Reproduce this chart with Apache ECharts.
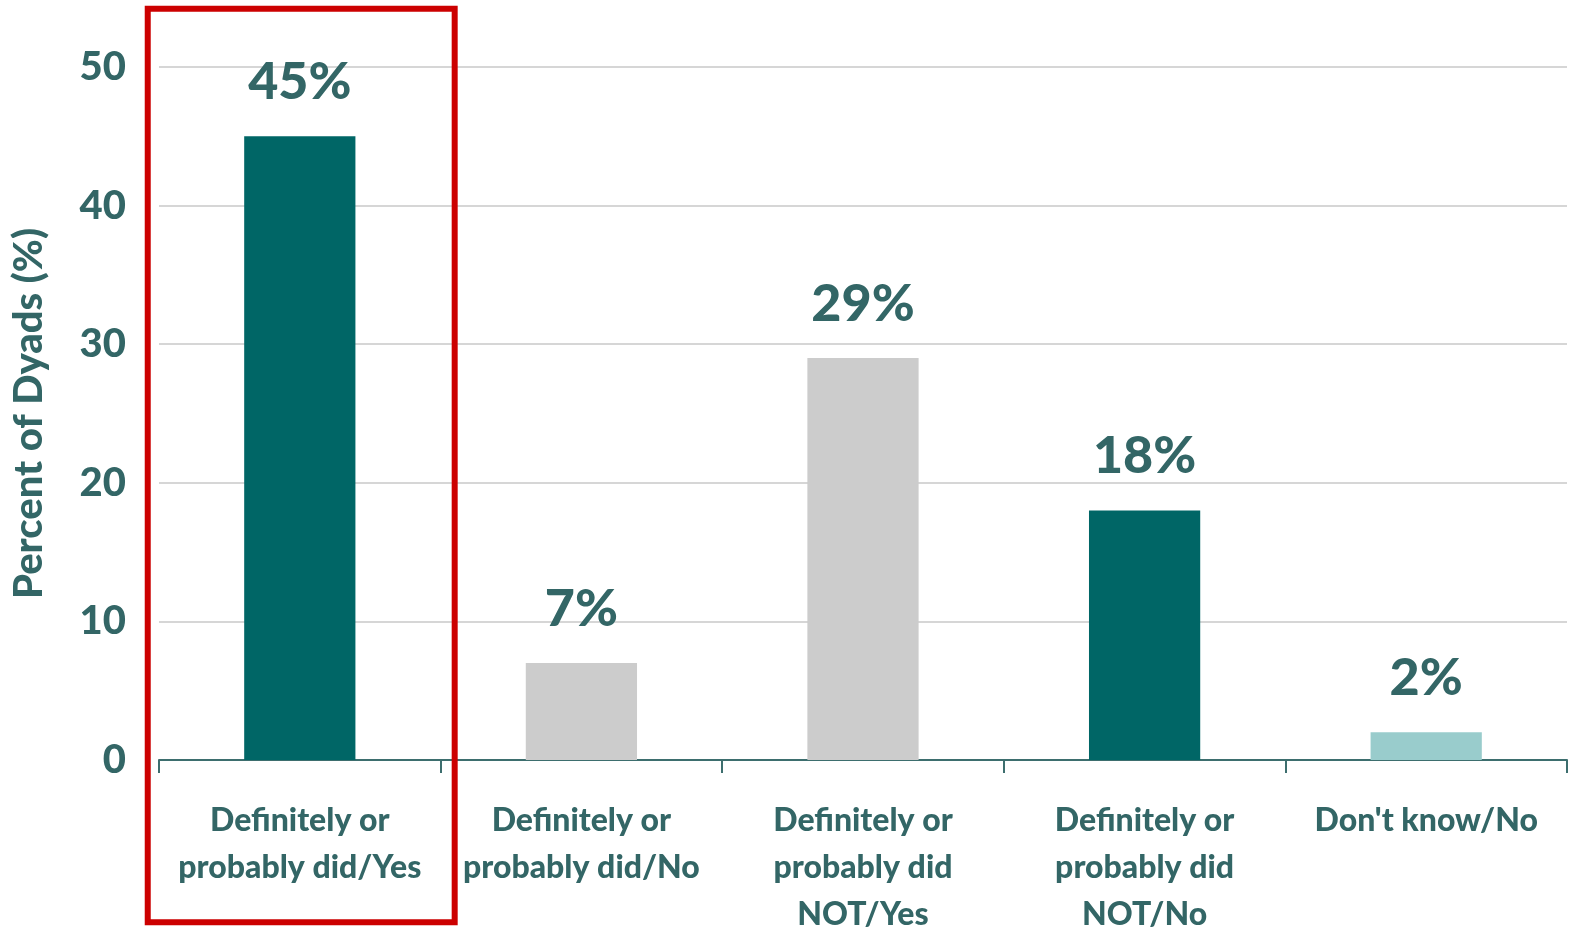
<!DOCTYPE html>
<html>
<head>
<meta charset="utf-8">
<script src="https://cdn.jsdelivr.net/npm/echarts@6/dist/echarts.min.js"></script>
<style>
html,body{margin:0;padding:0;background:#fff;}
#chart{width:1573px;height:931px;}
</style>
</head>
<body>
<div id="chart"></div>
<script>
const categories = [
  "Definitely or\nprobably did/Yes",
  "Definitely or\nprobably did/No",
  "Definitely or\nprobably did\nNOT/Yes",
  "Definitely or\nprobably did\nNOT/No",
  "Don't know/No"
];
const values = [45, 7, 29, 18, 2];
const barColors = ["#006666", "#cccccc", "#cccccc", "#006666", "#99cccc"];
const yTicks = { min: 0, max: 50, interval: 10 };
const yAxisName = "Percent of Dyads (%)";
const highlightIndex = 0;

const FONT = "Lato, 'Open Sans', sans-serif";
const TEXT = "#336666";

const chart = echarts.init(document.getElementById('chart'), null, { renderer: 'canvas' });
const option = {
  animation: false,
  backgroundColor: '#ffffff',
  grid: { left: 159, right: 6, top: 67, bottom: 171, containLabel: false, outerBoundsMode: 'none' },
  xAxis: {
    type: 'category',
    data: categories,
    axisLine: { lineStyle: { color: '#3d6e6e', width: 2 } },
    axisTick: { show: true, length: 13, lineStyle: { color: '#3d6e6e', width: 2 } },
    axisLabel: {
      interval: 0,
      color: TEXT,
      fontFamily: FONT,
      fontWeight: 900,
      fontSize: 32,
      lineHeight: 47,
      margin: 37
    }
  },
  yAxis: {
    type: 'value',
    min: yTicks.min, max: yTicks.max, interval: yTicks.interval,
    name: yAxisName,
    nameLocation: 'middle',
    nameGap: 110,
    nameTextStyle: { color: TEXT, fontFamily: FONT, fontWeight: 900, fontSize: 40 },
    axisLine: { show: false },
    axisTick: { show: false },
    axisLabel: { color: TEXT, fontFamily: FONT, fontWeight: 900, fontSize: 40, margin: 33 },
    splitLine: { lineStyle: { color: '#c8c8c8', width: 1.5 } }
  },
  series: [{
    type: 'bar',
    barWidth: '39.5%',
    data: values.map((v, i) => ({ value: v, itemStyle: { color: barColors[i] } })),
    label: {
      show: true,
      position: 'top',
      distance: 28,
      formatter: p => p.value + '%',
      color: TEXT,
      fontFamily: FONT,
      fontWeight: 900,
      fontSize: 52
    }
  }]
};
chart.setOption(option);

// Red highlight box around the first category, positioned from the axes
const c0 = chart.convertToPixel({ xAxisIndex: 0 }, highlightIndex);
const c1 = chart.convertToPixel({ xAxisIndex: 0 }, highlightIndex + 1);
const catW = c1 - c0;
const yTop = chart.convertToPixel({ yAxisIndex: 0 }, 54.2);
const yBot = chart.convertToPixel({ yAxisIndex: 0 }, -11.7);
const left = c0 - 0.54 * catW;
const right = c0 + 0.55 * catW;
chart.setOption({
  graphic: [{
    type: 'rect',
    shape: { x: left, y: yTop, width: right - left, height: yBot - yTop },
    style: { fill: 'none', stroke: '#cc0000', lineWidth: 6 },
    z: 100
  }]
});
</script>
</body>
</html>
